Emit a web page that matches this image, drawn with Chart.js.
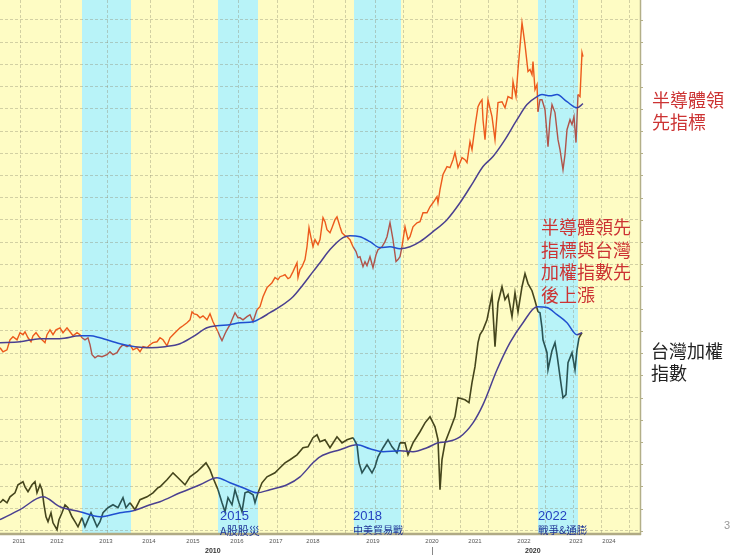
<!DOCTYPE html>
<html><head><meta charset="utf-8">
<script src="https://cdn.jsdelivr.net/npm/chart.js@4.4.0/dist/chart.umd.min.js"></script>
<style>
html,body{margin:0;padding:0;background:#fff;width:740px;height:555px;overflow:hidden;}
#wrap{position:relative;width:740px;height:555px;}
canvas{position:absolute;left:0;top:0;}
.t{position:absolute;font-family:"Noto Sans CJK TC","Noto Sans CJK SC",sans-serif;white-space:nowrap;}
</style></head><body>
<div id="wrap">
<canvas id="c" width="740" height="555"></canvas>
<div class="t" id="redNote" style="left:541px;top:215px;font-size:18px;line-height:22.5px;color:#cc3333;">半導體領先<br>指標與台灣<br>加權指數先<br>後上漲</div>
<div class="t" style="left:652px;top:89px;font-size:18px;line-height:21.5px;color:#cc3333;">半導體領<br>先指標</div>
<div class="t" style="left:651px;top:339px;font-size:18px;line-height:22px;color:#222;">台灣加權<br>指數</div>
<div class="t" style="left:220px;top:509px;font-size:13px;line-height:14px;color:#2442c0;font-family:'Liberation Sans',sans-serif;">2015</div>
<div class="t" style="left:220px;top:524px;font-size:11px;line-height:12px;color:#1f3596;">A股股災</div>
<div class="t" style="left:353px;top:509px;font-size:13px;line-height:14px;color:#2442c0;font-family:'Liberation Sans',sans-serif;">2018</div>
<div class="t" style="left:353px;top:524px;font-size:10px;line-height:12px;color:#1f3596;">中美貿易戰</div>
<div class="t" style="left:538px;top:509px;font-size:13px;line-height:14px;color:#2442c0;font-family:'Liberation Sans',sans-serif;">2022</div>
<div class="t" style="left:538px;top:524px;font-size:10.5px;line-height:12px;color:#1f3596;">戰爭&amp;通膨</div>
<div class="t" style="left:205px;top:547px;font-size:7px;line-height:8px;font-weight:bold;color:#333;font-family:'Liberation Sans',sans-serif;">2010</div>
<div class="t" style="left:525px;top:547px;font-size:7px;line-height:8px;font-weight:bold;color:#333;font-family:'Liberation Sans',sans-serif;">2020</div>
<div class="t" style="left:724px;top:519px;font-size:11px;line-height:12px;color:#999;font-family:'Liberation Sans',sans-serif;">3</div>
</div>
<script>
// ---- data (x = time index, y = relative level in grid units) ----
const yearLabels = ['2011','2012','2013','2014','2015','2016','2017','2018','2019','2020','2021','2022','2023','2024'];
const yearTickPos = [4.75,14.25,26.5,37.25,48.25,59.25,69,78.25,93.25,108,118.75,131,144,152.25];
const gridXPos = [5,15,26.75,37.5,48.25,59.5,69.25,78.25,86.25,93.75,100.75,108,115,122,129.25,136.25,143.25,150.25,157.25];
const bands = [[20.5,32.75],[54.5,64.5],[88.5,100.25],[134.5,144.5]];

const semiLead = [[0,8.24],[0.75,8.06],[1.75,8.15],[2.5,8.60],[3.25,8.74],[4.25,8.60],[5,8.92],[5.75,8.83],[6.25,8.96],[7,8.69],[7.75,8.51],[8.25,8.78],[9,8.92],[9.75,8.74],[10.5,8.60],[11.25,8.47],[11.75,8.83],[12.5,9.05],[13.25,8.83],[14,9.05],[15,9.14],[15.75,8.92],[16.75,9.14],[17.5,8.96],[18.25,8.78],[19.25,8.92],[20,8.83],[20.5,8.69],[21.25,8.60],[22,8.69],[22.5,8.38],[23,7.93],[23.75,7.79],[24.5,7.88],[25.5,7.84],[26.75,7.93],[27.5,8.06],[28.25,7.93],[29.25,8.02],[30,8.24],[30.75,8.38],[31.75,8.29],[32.5,8.38],[33.25,8.15],[34.25,8.24],[35,8.06],[35.75,8.29],[36.75,8.24],[37.5,8.38],[38.25,8.47],[39.25,8.51],[40,8.69],[40.75,8.60],[41.75,8.33],[42.5,8.69],[43.25,8.83],[44.25,9.01],[45,9.14],[45.75,9.23],[46.75,9.37],[47.5,9.50],[48,9.86],[48.5,9.77],[49.25,9.73],[50,9.59],[50.75,9.68],[51.75,9.50],[52.5,9.77],[53.25,9.41],[54,9.14],[54.5,8.96],[55,8.74],[55.5,8.56],[56.25,8.87],[56.75,9.05],[57.5,9.28],[58,9.50],[58.75,9.82],[59.5,9.59],[60,9.59],[60.75,9.50],[61.75,9.64],[62.5,9.73],[63.25,9.41],[64.25,9.95],[65,10.09],[65.75,10.54],[66.75,10.95],[67.5,11.08],[68,11.17],[68.75,11.40],[69.5,11.31],[70,11.44],[70.75,11.49],[71.25,11.53],[72,11.35],[72.5,11.40],[73.25,11.67],[74.25,12.07],[74.5,11.40],[75,11.76],[75.5,11.89],[76.25,12.21],[76.75,12.79],[77.25,13.65],[77.75,13.20],[78.25,12.79],[78.75,13.11],[79.5,12.88],[80,13.11],[80.75,14.10],[81.25,13.92],[81.75,13.56],[82.5,13.42],[83,13.65],[83.75,14.01],[84.25,14.14],[85,13.69],[85.5,13.42],[86.25,13.29],[86.75,13.24],[87.5,13.11],[88.25,12.79],[89,12.57],[89.5,12.30],[90,12.34],[90.75,11.89],[91.25,12.12],[91.75,11.94],[92.5,12.34],[93.25,11.85],[94,12.43],[94.5,12.66],[95.5,12.79],[96.25,13.02],[96.75,13.24],[97.5,13.87],[98.25,13.11],[99,12.12],[99.5,12.21],[100,12.34],[100.5,12.79],[101.25,13.69],[102,13.11],[102.5,13.24],[103.25,13.69],[104.25,13.87],[105,13.92],[105.75,14.32],[106.75,14.32],[107.5,14.59],[108.25,14.77],[109.25,15.05],[109.5,14.77],[110,15.36],[110.75,16.04],[111.75,16.40],[112.5,16.35],[113.25,16.71],[113.75,17.03],[114.5,16.35],[115.5,16.80],[116.25,16.71],[116.75,16.58],[117.5,17.52],[118,17.16],[118.75,18.20],[119.5,19.10],[120,19.28],[120.5,19.41],[120.75,18.51],[121.25,17.61],[122,19.41],[123,18.65],[123.75,17.61],[124.5,19.28],[125.5,19.32],[126.25,19.05],[127,19.55],[128,19.46],[128.25,20.23],[129,19.55],[129.5,20.77],[130,21.80],[130.5,22.88],[130.75,22.57],[131.25,21.89],[132,20.68],[132.5,20.77],[133,20.54],[133.25,21.13],[133.75,19.86],[134.25,20.09],[134.5,18.87],[135,19.41],[135.5,19.41],[136.25,18.96],[137,17.30],[137.5,18.51],[138,19.19],[138.75,18.83],[139.5,17.61],[140,17.16],[140.75,16.26],[141.25,16.94],[141.75,18.06],[142.5,18.51],[143,18.29],[143.5,18.65],[144,17.48],[144.5,19.64],[145,19.55],[145.5,21.53],[145.75,21.35]];

const semiLeadMA = [[0,8.47],[5,8.51],[10,8.65],[15,8.65],[20,8.78],[22.5,8.78],[25,8.69],[30,8.42],[33.75,8.29],[37.5,8.24],[41.25,8.29],[45,8.42],[48.25,8.74],[51.75,9.14],[54.25,9.23],[57.5,9.28],[60,9.37],[63.25,9.41],[65,9.55],[67.5,9.82],[70,10.09],[73.25,10.54],[75.75,11.08],[78.25,11.67],[80,12.07],[82.5,12.66],[85.75,13.20],[87.5,13.29],[90,13.24],[92.5,13.02],[95,12.75],[97.5,12.79],[100,12.70],[102.5,12.79],[105,13.02],[108.25,13.47],[111.75,14.01],[115,14.77],[118.25,15.68],[120.75,16.40],[123.25,16.85],[126.25,17.61],[129.25,18.51],[131.75,19.19],[134.25,19.55],[135.5,19.64],[137.5,19.59],[139.25,19.64],[141.75,19.32],[144.25,19.05],[145.75,19.23]];

const taiex = [[0,1.26],[0.75,1.40],[1.75,1.26],[2.5,1.53],[3.75,1.71],[4.5,2.07],[5.75,2.21],[6.25,1.98],[7,1.76],[8,2.07],[8.75,2.21],[9.25,1.71],[10,2.07],[10.5,1.85],[11,1.17],[11.5,0.63],[12,0.41],[12.75,0.81],[13.25,0.36],[14.25,0.05],[14.75,0.50],[15.5,0.81],[16.25,1.17],[17,1.04],[18,0.63],[18.75,0.41],[19.5,0.18],[20.5,0.59],[21.25,0.18],[22,0.50],[22.75,0.81],[23.5,0.50],[24.25,0.18],[25,0.41],[25.75,0.81],[27,1.04],[28.25,1.17],[29.5,1.04],[30.75,1.49],[31.5,1.04],[32.5,1.26],[33.75,0.95],[35,1.40],[36.75,1.53],[38.25,1.71],[39.5,1.94],[40,1.98],[41.75,2.30],[43.25,2.61],[44.5,2.39],[46.25,2.07],[47.5,2.43],[49.25,2.66],[50.5,2.88],[51.5,3.06],[52.5,2.75],[53.25,2.39],[54.5,1.85],[55.5,1.26],[56.25,0.86],[57,1.49],[58,1.17],[58.75,1.85],[59.75,1.26],[60.5,0.86],[61.25,1.71],[62,1.76],[63.25,1.62],[63.75,1.26],[64.5,1.71],[65.5,2.16],[66.75,2.43],[68.75,2.61],[70,2.84],[71.25,3.06],[72.5,3.20],[74.25,3.42],[75.75,3.74],[77,3.78],[78.25,4.19],[79.25,4.32],[80,4.01],[81.25,4.10],[82.5,3.74],[84.25,4.23],[85.5,3.96],[86.75,4.10],[88.25,4.19],[89.25,3.87],[89.75,3.06],[90.5,2.61],[91.75,2.97],[93,2.61],[93.75,2.88],[94.5,3.33],[95.75,3.74],[97,4.10],[98,3.78],[99.25,3.51],[100,3.96],[101.25,3.96],[102,3.42],[103.25,3.96],[105,4.46],[106.25,4.86],[107.5,5.14],[108.75,4.68],[109.5,4.10],[110,1.85],[110.5,3.20],[111.25,3.96],[112.5,4.55],[113.75,5.14],[114.5,5.99],[116.25,5.90],[117.25,5.77],[118,6.67],[118.75,7.39],[119.5,8.47],[120,8.83],[120.75,9.05],[121.75,9.50],[123,10.63],[123.75,8.29],[124.5,10.27],[125.5,10.99],[126.25,10.41],[127,10.63],[128,9.64],[128.75,10.72],[129.5,9.86],[130.5,10.99],[131.25,11.58],[132,11.13],[133,10.81],[133.75,10.36],[134.5,9.86],[135,9.82],[135.5,9.14],[135.75,8.60],[136.75,8.02],[137,7.25],[138,8.11],[138.75,8.47],[139.25,7.93],[140,6.94],[140.75,5.99],[141.5,6.13],[142,7.57],[143,8.02],[143.75,7.25],[144.25,8.15],[144.75,8.69],[145.5,8.92]];

const taiexMA = [[0,0.50],[5,0.95],[10.75,1.53],[15,1.08],[20,0.86],[25,0.63],[30,0.81],[33.25,0.90],[37.5,1.17],[40,1.31],[45,1.71],[50,2.07],[54.25,2.39],[57.5,2.16],[60.75,1.94],[64.25,1.71],[67.5,1.85],[71.75,2.07],[75,2.43],[78.25,3.06],[80,3.33],[85,3.65],[89.25,3.87],[92.5,3.69],[95.75,3.56],[100,3.60],[103.25,3.56],[106.75,3.74],[109.5,3.96],[111.75,4.01],[115,4.23],[118.25,4.86],[120.75,5.68],[124.25,7.25],[127.5,8.47],[130.75,9.37],[134.25,10.09],[136.75,10.05],[139.25,9.73],[141.75,9.37],[144.25,8.83],[145.5,8.92]];

// ---- styling ----
const YELLOW = '#fefcc4', CYAN = '#b8f3f8', GRID = 'rgba(140,138,110,0.38)';
const toXY = a => a.map(p => ({x: p[0], y: p[1]}));
const inBand = ctx => { const m = (ctx.p0.parsed.x + ctx.p1.parsed.x) / 2; return bands.some(b => m >= b[0] && m <= b[1]); };
const yGridVals = []; for (let k = 0; k <= 23; k++) yGridVals.push(k);

const bgPlugin = {
  id: 'bg',
  beforeDraw(chart) {
    const {ctx, chartArea: a, scales: {x}} = chart;
    ctx.save();
    ctx.fillStyle = '#fff'; ctx.fillRect(0, 0, chart.width, chart.height);
    ctx.fillStyle = YELLOW; ctx.fillRect(a.left, a.top, a.right - a.left, a.bottom - a.top);
    ctx.fillStyle = CYAN;
    bands.forEach(b => { const x0 = x.getPixelForValue(b[0]), x1 = x.getPixelForValue(b[1]); ctx.fillRect(x0, a.top, x1 - x0, a.bottom - a.top); });
    ctx.restore();
  },
  afterDraw(chart) {
    const {ctx, chartArea: a, scales: {x, y}} = chart;
    ctx.save();
    ctx.strokeStyle = '#b3af88'; ctx.lineWidth = 1.5;
    ctx.beginPath(); ctx.moveTo(a.right + 0.5, a.top); ctx.lineTo(a.right + 0.5, a.bottom + 2); ctx.stroke();
    ctx.lineWidth = 1;
    yGridVals.forEach(v => { const py = Math.round(y.getPixelForValue(v)) + 0.5; ctx.beginPath(); ctx.moveTo(a.right, py); ctx.lineTo(a.right + 3, py); ctx.stroke(); });
    ctx.strokeStyle = '#b0aa84'; ctx.lineWidth = 2.5;
    ctx.beginPath(); ctx.moveTo(a.left, a.bottom + 1); ctx.lineTo(a.right + 1, a.bottom + 1); ctx.stroke();
    ctx.strokeStyle = '#888'; ctx.lineWidth = 1;
    const px = Math.round(x.getPixelForValue(yearTickPos[9])) + 0.5;
    ctx.beginPath(); ctx.moveTo(px, a.bottom + 14); ctx.lineTo(px, chart.height); ctx.stroke();
    ctx.restore();
  }
};

new Chart(document.getElementById('c'), {
  type: 'line',
  data: {
    datasets: [
      {data: toXY(semiLeadMA), borderWidth: 1.5, pointRadius: 0, cubicInterpolationMode: 'monotone', tension: 0.4,
       borderColor: '#4a4090', segment: {borderColor: c => inBand(c) ? '#1f4fd0' : '#4a4090'}},
      {data: toXY(taiexMA), borderWidth: 1.5, pointRadius: 0, cubicInterpolationMode: 'monotone', tension: 0.4,
       borderColor: '#4a4090', segment: {borderColor: c => inBand(c) ? '#1f4fd0' : '#4a4090'}},
      {data: toXY(semiLead), borderWidth: 1.4, pointRadius: 0, tension: 0,
       borderColor: '#ec5a1c', segment: {borderColor: c => inBand(c) ? '#b0544a' : '#ec5a1c'}},
      {data: toXY(taiex), borderWidth: 1.6, pointRadius: 0, tension: 0,
       borderColor: '#45451c', segment: {borderColor: c => inBand(c) ? '#2a5454' : '#45451c'}}
    ]
  },
  options: {
    responsive: false, animation: false, devicePixelRatio: 1,
    layout: {padding: {left: 0, right: 100, top: 0, bottom: 0}},
    plugins: {legend: {display: false}, tooltip: {enabled: false}},
    scales: {
      x: {type: 'linear', min: 0, max: 160, position: 'bottom',
          grid: {display: false, drawTicks: false}, border: {display: false},
          afterBuildTicks: s => { s.ticks = yearTickPos.map(v => ({value: v})); },
          ticks: {autoSkip: false, maxRotation: 0, minRotation: 0, padding: 5, color: '#555',
                  font: {size: 6, family: 'Liberation Sans'}, callback: (v, i) => yearLabels[i]},
          afterFit: s => { s.height = 22; }},
      x2: {type: 'linear', min: 0, max: 160, position: 'top',
           afterBuildTicks: s => { s.ticks = gridXPos.map(v => ({value: v})); },
           ticks: {display: false}, grid: {color: GRID, drawTicks: false, lineWidth: 1},
           border: {display: false, dash: [3, 2]}, afterFit: s => { s.height = 0; }},
      y: {min: -0.1, max: 23.9, position: 'left',
          afterBuildTicks: s => { s.ticks = yGridVals.map(v => ({value: v})); },
          ticks: {display: false}, grid: {color: GRID, drawTicks: false, lineWidth: 1},
          border: {display: false, dash: [3, 2]}, afterFit: s => { s.width = 0; }}
    }
  },
  plugins: [bgPlugin]
});
</script>
</body></html>
